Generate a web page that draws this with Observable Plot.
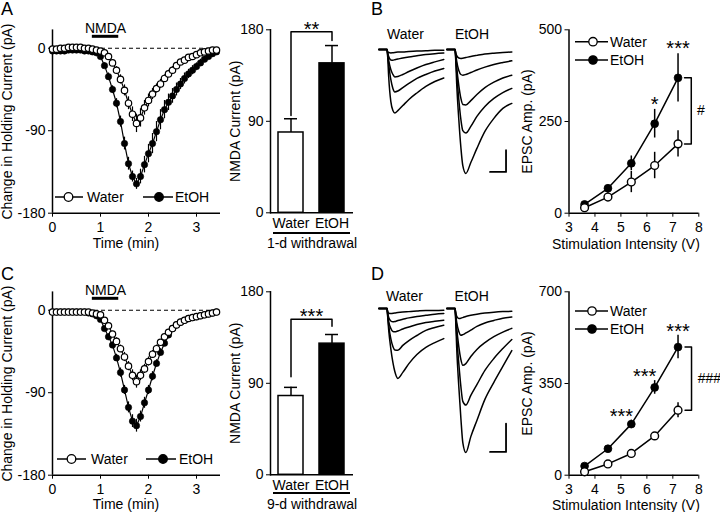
<!DOCTYPE html>
<html><head><meta charset="utf-8">
<script src="https://cdn.jsdelivr.net/npm/d3@7"></script>
<script src="https://cdn.jsdelivr.net/npm/@observablehq/plot@0.6"></script>
<style>
body{margin:0;background:#fff;}
#fig{position:relative;width:720px;height:512px;overflow:hidden;font-family:"Liberation Sans",Arial,Helvetica,sans-serif;color:#000;background:#fff;}
.abs{position:absolute;white-space:nowrap;line-height:1;}
</style></head><body><div id="fig"></div>
<script>
// ---------------- DATA ----------------
// Holding-current time course, one sample every 5 s
const timeSec = [0,5,10,15,20,25,30,35,40,45,50,55,60,65,70,75,80,85,90,95,100,105,110,115,120,125,130,135,140,145,150,155,160,165,170,175,180,185,190,195,200,205];
const timeTicks = [0,1,2,3];
const holdTicks = [-180,-90,0];
const nmdaA = {label:"NMDA", start:0.83, end:1.38};
// 1-d withdrawal (A)
const waterA    = [-1,-1,0,0,1,1,1,1,0,0,-1,-2,-3,-5,-9,-16,-24,-34,-46,-60,-72,-82,-76,-65,-57,-50,-44,-39,-33,-28,-24,-19,-15,-13,-10,-9,-7,-5,-4,-3,-2,-2];
const waterAsem = [1,1,1,1,1,1,1,1,1,1,1,1,2,2,3,3,4,5,6,7,8,10,10,8,7,6,5,5,4,4,4,3,3,3,3,2,2,2,2,2,1,1];
const etohA     = [-3,-3,-3,-3,-2,-2,-2,-2,-3,-3,-4,-5,-9,-19,-31,-45,-60,-80,-104,-126,-140,-148,-140,-127,-115,-104,-91,-78,-67,-59,-52,-45,-39,-33,-28,-24,-20,-16,-12,-9,-6,-4];
const etohAsem  = [1,1,1,1,1,1,1,1,1,1,1,1,2,3,4,4,5,6,7,7,6,6,8,9,10,11,11,11,10,9,8,7,6,6,5,5,4,4,3,3,2,2];
// 9-d withdrawal (C)
const waterC    = [-2,-2,-2,-2,-2,-2,-2,-2,-2,-2,-3,-4,-5,-11,-17,-26,-34,-42,-51,-61,-71,-78,-71,-64,-56,-48,-42,-35,-29,-24,-20,-16,-13,-11,-9,-8,-7,-6,-5,-4,-3,-2];
const waterCsem = [1,1,1,1,1,1,1,1,1,1,1,1,2,2,3,3,4,4,5,5,6,7,6,5,5,4,4,3,3,3,3,2,2,2,2,2,2,1,1,1,1,1];
const etohC     = [-2,-2,-2,-2,-2,-2,-2,-2,-2,-3,-4,-6,-10,-20,-29,-38,-52,-68,-87,-106,-121,-126,-116,-101,-87,-72,-58,-46,-36,-27,-20,-16,-13,-11,-9,-8,-7,-6,-5,-4,-3,-2];
const etohCsem  = [1,1,1,1,1,1,1,1,1,1,1,1,2,2,3,3,4,5,5,6,7,7,6,6,5,5,4,4,3,3,3,2,2,2,2,2,2,1,1,1,1,1];

// NMDA current bars
const barGroups = ["Water","EtOH"];
const barTicks = [0,90,180];
const barMeanA = [79,147];
const barSemA  = [13.5,17.5];
const barMeanC = [77.5,129];
const barSemC  = [8.5,9];
const sigBarA = {label:"**",  top:178, leftEnd:95.7, rightEnd:169.5};
const sigBarC = {label:"***", top:153, leftEnd:96.5, rightEnd:146};

// EPSC input-output
const stimV = [3.6,4.5,5.4,6.3,7.2];
const stimTicks = [3,4,5,6,7,8];
const epscTicksB = [0,250,500];
const epscWaterB    = [15,44,85,130,189];
const epscWaterBsem = [5,12,29,36,36];
const epscEtohB     = [24,68,136,244,369];
const epscEtohBsem  = [8,8,20,39,66];
const starsB        = ["","","","*","***"];
const epscTicksD = [0,350,700];
const epscWaterD    = [13,43,83,150,248];
const epscWaterDsem = [5,6,8,12,29];
const epscEtohD     = [35,101,195,335,489];
const epscEtohDsem  = [6,10,15,26,45];
const starsD        = ["","","***","***","***"];

// Representative EPSC traces (amplitude of inward current, pA) sampled at traceMs
const traceMs = [0,5.2,5.5,6.2,7.5,8.8,10,11.9,15,18.8,23.8,29.4,35,40.6];
const tracesBWater = [
  [0,0,12,14,16,15,14,12,11,9,7,6,4,3],
  [0,0,14,32,48,49,47,44,39,34,29,23,19,16],
  [0,0,18,51,92,115,126,124,115,101,85,69,57,46],
  [0,0,23,69,138,179,195,191,175,156,133,115,99,87],
  [0,0,28,129,239,281,292,281,258,230,200,170,147,131]];
const tracesBEtoh = [
  [0,0,14,28,39,41,40,37,32,27,21,17,14,11],
  [0,0,18,55,97,115,118,115,106,94,81,69,60,52],
  [0,0,23,83,166,225,253,255,235,207,175,150,131,118],
  [0,0,28,110,230,322,373,384,354,308,262,225,198,179],
  [0,0,37,161,322,451,534,570,520,455,377,317,271,248]];
const tracesDWater = [
  [0,0,11,16,18,17,16,14,12,11,9,7,7,6],
  [0,0,14,32,44,47,46,42,38,33,28,24,20,18],
  [0,0,18,46,70,81,82,79,72,65,56,49,45,41],
  [0,0,21,60,106,134,146,147,130,113,95,77,67,59],
  [0,0,25,77,141,190,222,246,225,194,162,137,120,106]];
const tracesDEtoh = [
  [0,0,14,28,35,34,32,28,24,20,16,13,11,10],
  [0,0,18,49,81,94,92,86,76,63,51,42,34,30],
  [0,0,21,70,134,180,200,194,169,144,120,99,83,70],
  [0,0,28,99,194,275,327,340,306,268,218,176,141,109],
  [0,0,35,141,275,387,472,507,451,394,320,260,204,148]];
const scaleBar = {ms:10, pA:100};

// ---------------- LAYOUT ----------------
const FONT = '"Liberation Sans", Arial, Helvetica, sans-serif';
const STYLE = {fontFamily: FONT, fontSize: "14px", background: "transparent", overflow: "visible", color: "black"};
const fig = document.getElementById("fig");
function place(el, left, top) { el.style.position = "absolute"; el.style.left = left + "px"; el.style.top = top + "px"; fig.appendChild(el); return el; }
function html(text, left, top, size = 14, extra = "") {
  const d = document.createElement("div"); d.className = "abs"; d.textContent = text;
  d.style.cssText += `left:${left}px;top:${top}px;font-size:${size}px;${extra}`; fig.appendChild(d); return d;
}
const fmt = d => String(d);

function timeCoursePlot(water, waterSem, etoh, etohSem, nmda, labelDy) {
  const rows = (v, e) => timeSec.map((s, i) => ({t: s / 60, v: v[i], e: e[i]}));
  const W = rows(water, waterSem), E = rows(etoh, etohSem);
  return Plot.plot({
    width: 232, height: 256, marginLeft: 52, marginRight: 12, marginTop: 29.4, marginBottom: 43.3,
    style: STYLE,
    x: {domain: [0, 3.5], ticks: timeTicks, tickSize: 4, tickPadding: 5, tickFormat: fmt, label: null},
    y: {domain: [-180, 20], ticks: holdTicks, tickSize: 4, tickPadding: 3, tickFormat: fmt, label: "Change in Holding Current (pA)", labelAnchor: "center", labelOffset: 50, labelArrow: "none"},
    marks: [
      Plot.ruleY([0], {x1: 0, x2: 3.5, strokeDasharray: "4,3", strokeWidth: 1.2}),
      Plot.ruleX([0], {y1: -180, y2: 20, strokeWidth: 1.5}),
      Plot.ruleY([-180], {x1: 0, x2: 3.5, strokeWidth: 1.5}),
      Plot.ruleY([nmda], {x1: "start", x2: "end", y: 13, strokeWidth: 3}),
      Plot.text([nmda], {x: d => (d.start + d.end) / 2, frameAnchor: "top", text: "label", lineAnchor: "middle", dy: -1}),
      Plot.text(["Time (min)"], {frameAnchor: "bottom", dx: -10.5, dy: labelDy, lineAnchor: "middle"}),
      Plot.ruleX(E, {x: "t", y1: d => d.v - d.e, y2: d => d.v + d.e, strokeWidth: 1.2}),
      Plot.line(E, {x: "t", y: "v", strokeWidth: 1.2}),
      Plot.dot(E, {x: "t", y: "v", r: 3.2, fill: "black", stroke: "black", strokeWidth: 0.6}),
      Plot.ruleX(W, {x: "t", y1: d => d.v - d.e, y2: d => d.v + d.e, strokeWidth: 1.2}),
      Plot.line(W, {x: "t", y: "v", strokeWidth: 1.2}),
      Plot.dot(W, {x: "t", y: "v", r: 3.2, fill: "white", stroke: "black", strokeWidth: 1.2})
    ]
  });
}

function barPlot(means, sems, sig, xLabel, labelOffset) {
  const bars = barGroups.map((g, i) => ({group: g, mean: means[i], sem: sems[i]}));
  const bracket = [
    {x: barGroups[0], y: sig.leftEnd}, {x: barGroups[0], y: sig.top},
    {x: barGroups[1], y: sig.top}, {x: barGroups[1], y: sig.rightEnd}];
  return Plot.plot({
    width: 140, height: 256, marginLeft: 50, marginRight: 7, marginTop: 29.3, marginBottom: 43.7,
    style: STYLE,
    x: {domain: barGroups, paddingInner: 0.39, paddingOuter: 0.2, tickSize: 0, tickPadding: 5.7, label: xLabel, labelAnchor: "center", labelOffset, labelArrow: "none"},
    y: {domain: [0, 180], ticks: barTicks, tickSize: 4, tickPadding: 3, tickFormat: fmt, label: "NMDA Current (pA)", labelAnchor: "center", labelOffset: 40, labelArrow: "none"},
    marks: [
      Plot.ruleX(bars, {x: "group", y1: "mean", y2: d => d.mean + d.sem, strokeWidth: 1.5}),
      Plot.tickY(bars, {x: "group", y: d => d.mean + d.sem, strokeWidth: 1.5, insetLeft: 6, insetRight: 6}),
      Plot.barY(bars.filter(d => d.group === "Water"), {x: "group", y: "mean", fill: "white", stroke: "black", strokeWidth: 1.5}),
      Plot.barY(bars.filter(d => d.group === "EtOH"), {x: "group", y: "mean", fill: "black", stroke: "black", strokeWidth: 1.5}),
      Plot.line(bracket, {x: "x", y: "y", strokeWidth: 1.5}),
      Plot.text([sig], {x: () => barGroups[0], y: "top", text: "label", fontSize: 20, lineAnchor: "middle", dx: 20.5, dy: -2.5}),
      Plot.ruleY([0], {strokeWidth: 1.5}),
      Plot.frame({anchor: "left", strokeWidth: 1.5})
    ]
  });
}

function epscPlot(water, waterSem, etoh, etohSem, yTicks, stars, hashLabel, starDy, bracketX, labelDy) {
  const yMax = yTicks[yTicks.length - 1];
  const W = stimV.map((v, i) => ({v, a: water[i], e: waterSem[i]}));
  const E = stimV.map((v, i) => ({v, a: etoh[i], e: etohSem[i], s: stars[i]}));
  const last = stimV.length - 1;
  const bracket = [
    {x: bracketX[0], y: etoh[last]}, {x: bracketX[1], y: etoh[last]},
    {x: bracketX[1], y: water[last]}, {x: bracketX[0], y: water[last]}];
  const hash = [{x: bracketX[2], y: (etoh[last] + water[last]) / 2, label: hashLabel}];
  const starsLast = E.filter((d, i) => d.s && i === last);
  const starsMid = E.filter((d, i) => d.s && i !== last);
  return Plot.plot({
    width: 210, height: 256, marginLeft: 58.5, marginRight: 21.7, marginTop: 29.3, marginBottom: 43.3,
    style: STYLE,
    x: {domain: [3, 8], ticks: stimTicks, tickSize: 4, tickPadding: 5, tickFormat: fmt, label: null},
    y: {domain: [0, yMax], ticks: yTicks, tickSize: 4, tickPadding: 3, tickFormat: fmt, label: "EPSC Amp. (pA)", labelAnchor: "center", labelOffset: 47, labelArrow: "none"},
    marks: [
      Plot.ruleX([3], {y1: 0, y2: yMax, strokeWidth: 1.5}),
      Plot.ruleY([0], {x1: 3, x2: 8, strokeWidth: 1.5}),
      Plot.text(["Stimulation Intensity (V)"], {frameAnchor: "bottom", dx: -8, dy: labelDy, lineAnchor: "middle"}),
      Plot.ruleX(E, {x: "v", y1: d => d.a - d.e, y2: d => d.a + d.e, strokeWidth: 1.5}),
      Plot.line(E, {x: "v", y: "a", strokeWidth: 1.5}),
      Plot.ruleX(W, {x: "v", y1: d => d.a - d.e, y2: d => d.a + d.e, strokeWidth: 1.5}),
      Plot.line(W, {x: "v", y: "a", strokeWidth: 1.5}),
      Plot.dot(E, {x: "v", y: "a", r: 3.9, fill: "black", stroke: "black", strokeWidth: 0.8}),
      Plot.dot(W, {x: "v", y: "a", r: 3.9, fill: "white", stroke: "black", strokeWidth: 1.4}),
      Plot.text(starsLast, {x: "v", y: d => d.a + d.e, text: "s", fontSize: 20, lineAnchor: "middle", dy: starDy}),
      Plot.text(starsMid, {x: "v", y: d => d.a + d.e, text: "s", fontSize: 20, lineAnchor: "middle", dy: starDy, dx: stars[2] ? -10 : 0}),
      Plot.line(bracket, {x: "x", y: "y", strokeWidth: 1.5}),
      Plot.text(hash, {x: "x", y: "y", text: "label", fontSize: 14, lineAnchor: "middle"})
    ]
  });
}

function tracePlot(traces, pAperPx, yMin, bar) {
  const rows = [];
  traces.forEach((tr, k) => tr.forEach((a, i) => rows.push({k, t: traceMs[i], a: -a})));
  const frameH = -yMin / pAperPx;
  const marks = [Plot.line(rows, {x: "t", y: "a", z: "k", curve: "monotone-x", strokeWidth: 1.5})];
  if (bar) {
    const sb = [{t: bar.t - scaleBar.ms, a: -bar.a}, {t: bar.t, a: -bar.a}, {t: bar.t, a: -bar.a + scaleBar.pA}];
    marks.push(Plot.line(sb, {x: "t", y: "a", strokeWidth: 1.8}));
  }
  return Plot.plot({
    width: 80, height: 20 + frameH, marginLeft: 8.3, marginRight: 6.7, marginTop: 10, marginBottom: 10,
    style: STYLE, x: {domain: [0, 40.6], axis: null}, y: {domain: [yMin, 0], axis: null},
    marks
  });
}

// ---------------- ASSEMBLE ----------------
const R = 262;
place(timeCoursePlot(waterA, waterAsem, etohA, etohAsem, nmdaA, 30.5), 0, 0);
place(timeCoursePlot(waterC, waterCsem, etohC, etohCsem, nmdaA, 29), 0, R);
place(barPlot(barMeanA, barSemA, sigBarA, "1-d withdrawal", 35), 220, 0);
place(barPlot(barMeanC, barSemC, sigBarC, "9-d withdrawal", 34), 220, R);
place(epscPlot(epscWaterB, epscWaterBsem, epscEtohB, epscEtohBsem, epscTicksB, starsB, "#", -5, [7.45, 7.71, 8.08], 31), 510, 0);
place(epscPlot(epscWaterD, epscWaterDsem, epscEtohD, epscEtohDsem, epscTicksD, starsD, "###", -4, [7.47, 7.72, 8.41], 30), 510, R);
place(tracePlot(tracesBWater, 4.6, -600, null), 370, 39.3);
place(tracePlot(tracesBEtoh, 4.6, -600, {t: 37, a: 563}), 438.4, 39.3);
place(tracePlot(tracesDWater, 3.52, -560, null), 370, 298.3);
place(tracePlot(tracesDEtoh, 3.52, -560, {t: 37, a: 505}), 438.4, 298.3);

// panel letters
html("A", 1, 0, 18); html("B", 371, 0, 18); html("C", 1, 265, 18); html("D", 371, 265, 18);
// trace group labels
[["Water", 405.5, 27], ["EtOH", 472, 27], ["Water", 404.5, 289], ["EtOH", 471.7, 289]].forEach(([t, x, y]) => html(t, x, y, 14, "transform:translateX(-50%);"));
// withdrawal underline
[232, 232 + R - 2].forEach(y => { const d = document.createElement("div"); d.style.cssText = `position:absolute;left:273px;top:${y}px;width:77px;height:1.5px;background:#000;`; fig.appendChild(d); });

// legends
const lg = d3.create("svg").attr("width", 720).attr("height", 512).style("position", "absolute").style("left", "0px").style("top", "0px").style("overflow", "visible");
fig.appendChild(lg.node());
function legend(y, items) {
  items.forEach(it => {
    lg.append("line").attr("x1", it.x1).attr("x2", it.x2).attr("y1", y).attr("y2", y).attr("stroke", "black").attr("stroke-width", 1.5);
    lg.append("circle").attr("cx", it.cx).attr("cy", y).attr("r", it.r).attr("fill", it.filled ? "black" : "white").attr("stroke", "black").attr("stroke-width", 1.3);
    html(it.label, it.tx, y - 7, 14);
  });
}
legend(197, [{x1: 55, x2: 83, cx: 68.5, r: 4.3, filled: false, tx: 87, label: "Water"}, {x1: 143, x2: 173, cx: 159, r: 4.3, filled: true, tx: 175, label: "EtOH"}]);
legend(197 + R, [{x1: 57, x2: 86, cx: 71.5, r: 4.3, filled: false, tx: 91, label: "Water"}, {x1: 146, x2: 176, cx: 163, r: 4.3, filled: true, tx: 179, label: "EtOH"}]);
legend(41.7, [{x1: 575, x2: 608, cx: 593, r: 4.2, filled: false, tx: 610, label: "Water"}]);
legend(60, [{x1: 575, x2: 608, cx: 593, r: 4.2, filled: true, tx: 610, label: "EtOH"}]);
legend(311, [{x1: 575, x2: 608, cx: 592, r: 4.2, filled: false, tx: 610, label: "Water"}]);
legend(329, [{x1: 575, x2: 608, cx: 592, r: 4.2, filled: true, tx: 610, label: "EtOH"}]);
</script></body></html>
